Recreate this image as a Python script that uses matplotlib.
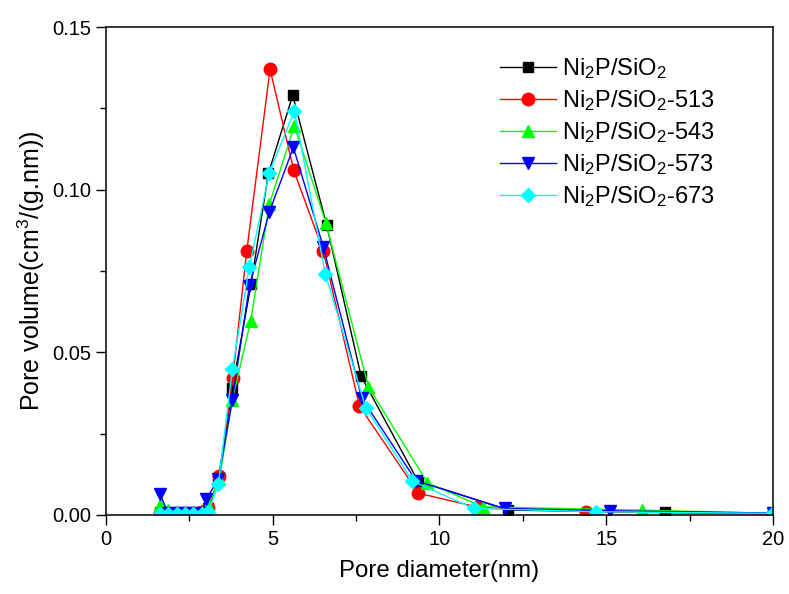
import matplotlib
matplotlib.use("Agg")
import matplotlib.pyplot as plt
from matplotlib.ticker import MultipleLocator

plt.rcParams['font.family'] = ['Liberation Sans', 'DejaVu Sans']
plt.rcParams['mathtext.fontset'] = 'custom'
plt.rcParams['mathtext.rm'] = 'Liberation Sans'
plt.rcParams['mathtext.it'] = 'Liberation Sans'

# data: pore diameter (nm) vs pore volume (cm3/(g.nm))
x_base = [1.62, 1.87, 2.12, 2.37, 2.62, 2.87, 3.07, 3.37, 3.79, 4.35, 4.87, 5.6, 6.62, 7.65, 9.35, 12.05, 16.75, 20.0]
y_base = [0.001, 0.0005, 0.0005, 0.0005, 0.0005, 0.001, 0.002, 0.011, 0.039, 0.071, 0.105, 0.129, 0.089, 0.0427, 0.0105, 0.0015, 0.0008, 0.0005]

x_513 = [1.62, 1.87, 2.12, 2.37, 2.62, 2.87, 3.07, 3.4, 3.8, 4.22, 4.92, 5.63, 6.52, 7.6, 9.37, 11.15, 14.4, 20.0]
y_513 = [0.0005, 0.0005, 0.0005, 0.0005, 0.0005, 0.0008, 0.002, 0.012, 0.042, 0.081, 0.137, 0.106, 0.081, 0.0335, 0.0067, 0.0024, 0.001, 0.0003]

x_543 = [1.62, 1.87, 2.12, 2.37, 2.62, 2.87, 3.07, 3.4, 3.79, 4.34, 4.9, 5.65, 6.59, 7.87, 9.64, 11.3, 16.06, 20.0]
y_543 = [0.003, 0.0015, 0.0005, 0.0005, 0.0005, 0.001, 0.003, 0.011, 0.0354, 0.0597, 0.0956, 0.1196, 0.0899, 0.0394, 0.0099, 0.0025, 0.0015, 0.0005]

x_573 = [1.62, 1.87, 2.12, 2.37, 2.62, 2.87, 3.0, 3.37, 3.79, 4.3, 4.9, 5.62, 6.52, 7.67, 9.3, 11.95, 15.1, 20.0]
y_573 = [0.0064, 0.0005, 0.0005, 0.0005, 0.0005, 0.0005, 0.0048, 0.011, 0.0354, 0.0704, 0.0932, 0.113, 0.0823, 0.0359, 0.0105, 0.002, 0.0013, 0.0006]

x_673 = [1.62, 1.87, 2.12, 2.37, 2.62, 2.87, 3.07, 3.37, 3.79, 4.3, 4.9, 5.65, 6.58, 7.79, 9.19, 11.03, 14.7, 20.0]
y_673 = [0.0003, 0.0003, 0.0003, 0.0003, 0.0003, 0.0003, 0.001, 0.0094, 0.0448, 0.0763, 0.1052, 0.1243, 0.074, 0.033, 0.0104, 0.002, 0.001, 0.0005]

labels = ['Ni$_2$P/SiO$_2$', 'Ni$_2$P/SiO$_2$-513', 'Ni$_2$P/SiO$_2$-543',
          'Ni$_2$P/SiO$_2$-573', 'Ni$_2$P/SiO$_2$-673']

fig = plt.figure(figsize=(7.89, 5.94), dpi=100)
ax = fig.add_axes([0.1343, 0.133, 0.8454, 0.8215])

ax.plot(x_base, y_base, color='black', marker='s', ms=7, lw=1, label=labels[0])
ax.plot(x_513, y_513, color='red', marker='o', ms=9, lw=1, label=labels[1])
ax.plot(x_543, y_543, color='#00ff00', marker='^', ms=9, lw=1, label=labels[2])
ax.plot(x_573, y_573, color='blue', marker='v', ms=9, lw=1, label=labels[3])
ax.plot(x_673, y_673, color='cyan', marker='D', ms=7, lw=1, label=labels[4])

ax.set_xlim(0, 20)
ax.set_ylim(0, 0.15)
ax.xaxis.set_major_locator(MultipleLocator(5))
ax.xaxis.set_minor_locator(MultipleLocator(2.5))
ax.yaxis.set_major_locator(MultipleLocator(0.05))
ax.yaxis.set_minor_locator(MultipleLocator(0.025))
ax.yaxis.set_major_formatter(matplotlib.ticker.FormatStrFormatter('%.2f'))
ax.tick_params(which='major', direction='out', length=7, width=1, labelsize=14.5)
ax.tick_params(which='minor', direction='out', length=4, width=1)
for s in ax.spines.values():
    s.set_linewidth(1.1)

ax.set_xlabel('Pore diameter(nm)', fontsize=17.3, labelpad=8)
ax.set_ylabel('Pore volume(cm$^3$/(g.nm))', fontsize=18, labelpad=4)

ax.legend(loc='upper left', bbox_to_anchor=(0.59, 0.94), frameon=False,
          borderaxespad=0, borderpad=0,
          fontsize=17, handlelength=2.4, handletextpad=0.25, labelspacing=0.30)

fig.savefig('out.png', dpi=100)
